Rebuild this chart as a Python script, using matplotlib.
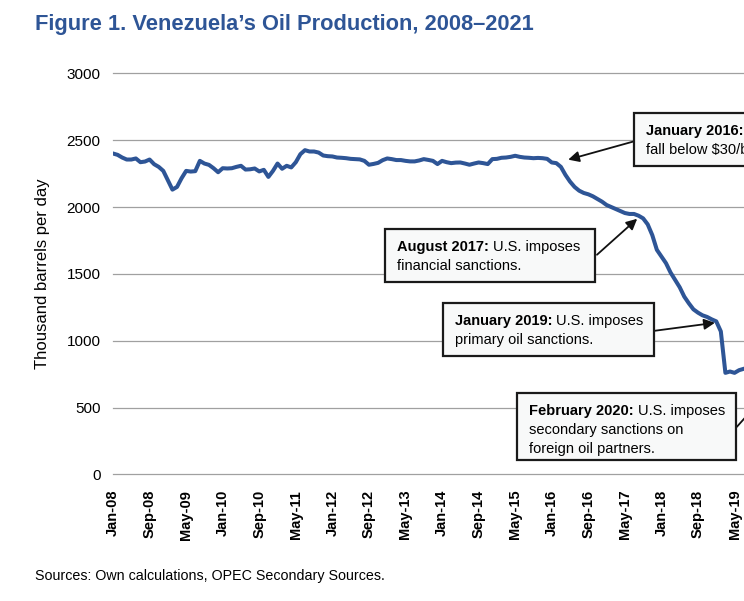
import matplotlib
matplotlib.use('Agg')
import matplotlib.pyplot as plt
from matplotlib.patches import Rectangle
from matplotlib.transforms import offset_copy

# monthly production, thousand barrels per day, from Jan-08
production = [
    2400, 2390, 2370, 2355, 2355, 2363, 2335, 2340, 2355, 2320, 2300, 2270,
    2200, 2130, 2150, 2215, 2270, 2265, 2268, 2345, 2325, 2315, 2290, 2260,
    2290, 2288, 2290, 2300, 2308, 2280, 2282, 2288, 2266, 2278, 2225, 2270,
    2325, 2286, 2308, 2296, 2335, 2395, 2425, 2415, 2415, 2407, 2385, 2380,
    2378, 2370, 2368, 2365, 2360, 2358, 2356, 2345, 2316, 2322, 2330, 2350,
    2363, 2358, 2351, 2351, 2345, 2341, 2341, 2348, 2358, 2352, 2345, 2321,
    2345, 2335, 2328, 2332, 2333, 2325, 2316, 2325, 2333, 2328, 2321, 2358,
    2360, 2368, 2370, 2375, 2383, 2375, 2370, 2368, 2365, 2367, 2365, 2360,
    2333, 2328, 2300, 2240, 2190, 2150, 2122, 2105, 2095, 2080, 2060, 2040,
    2015, 2000, 1985, 1970, 1955, 1948, 1948, 1935, 1915, 1870, 1790, 1680,
    1630, 1580, 1510, 1455, 1400, 1330, 1280, 1235, 1210, 1190, 1178, 1160,
    1145, 1070, 760, 770, 760, 780, 790, 800,
]
tick_labels = ['Jan-08', 'Sep-08', 'May-09', 'Jan-10', 'Sep-10', 'May-11',
               'Jan-12', 'Sep-12', 'May-13', 'Jan-14', 'Sep-14', 'May-15',
               'Jan-16', 'Sep-16', 'May-17', 'Jan-18', 'Sep-18', 'May-19']
y_ticks = [0, 500, 1000, 1500, 2000, 2500, 3000]

# (box left, box top, box right, box bottom) in (month, value), bold part, text lines, arrow start, arrow end
notes = [
    ((114.0, 2706, 175, 2309), 'January 2016:', ['Oil prices', 'fall below $30/barrel.'],
     (113.8, 2489), (99.6, 2354)),
    ((59.5, 1838, 105.5, 1441), 'August 2017:', ['U.S. imposes', 'financial sanctions.'],
     (105.9, 1643), (114.7, 1912)),
    ((72.2, 1284, 118.4, 887), 'January 2019:', ['U.S. imposes', 'primary oil sanctions.'],
     (118.4, 1074), (131.7, 1134)),
    ((88.4, 610, 136.3, 109), 'February 2020:', ['U.S. imposes', 'secondary sanctions on',
                                                 'foreign oil partners.'],
     (136.5, 356), (146, 720)),
]

BLUE = '#2e5596'
SANS = ['Liberation Sans', 'DejaVu Sans']

fig = plt.figure(figsize=(7.44, 6.01), dpi=100)
ax = fig.add_axes([0.1519, 0.2105, 0.9828, 0.6676])

ax.plot(range(len(production)), production, color=BLUE, lw=2.9,
        solid_joinstyle='round', zorder=3)
ax.set_xlim(0, 160)
ax.set_ylim(0, 3000)

ax.set_yticks(y_ticks)
ax.set_yticklabels([str(v) for v in y_ticks], family=SANS, fontsize=11)
ax.set_xticks(range(0, 8 * len(tick_labels), 8))
ax.set_xticklabels(tick_labels, rotation=90, family=SANS, fontsize=10.5,
                   weight='bold')
ax.tick_params(length=0, axis='y', pad=9)
ax.tick_params(length=0, axis='x', pad=11)
ax.grid(axis='y', color='#a0a0a0', lw=0.9)
for gl in ax.get_ygridlines():
    gl.set_clip_on(False)
ax.set_axisbelow(True)
for s in ax.spines.values():
    s.set_visible(False)

ax.set_ylabel('Thousand barrels per day', family=SANS, fontsize=12)
ax.yaxis.set_label_coords(-0.086, 0.5)

fig.text(0.047, 0.960, 'Figure 1. Venezuela\u2019s Oil Production, 2008\u20132021',
         family=SANS, weight='bold', fontsize=15.75, color=BLUE, va='center')
fig.text(0.047, 0.042, 'Sources: Own calculations, OPEC Secondary Sources.',
         family=SANS, fontsize=10.3, va='center')

renderer = fig.canvas.get_renderer()
for (x0, y0, x1, y1), bold, lines, a_from, a_to in notes:
    ax.annotate('', xy=a_to, xytext=a_from, annotation_clip=False,
                arrowprops=dict(arrowstyle='-|>', color='#111111', lw=1.3,
                                mutation_scale=16, shrinkA=0, shrinkB=0),
                zorder=5)
    ax.add_patch(Rectangle((x0, y1), x1 - x0, y0 - y1, fc='#f8f9f9', ec='#1a1a1a',
                           lw=1.6, zorder=6, clip_on=False))
    tr = offset_copy(ax.transData, fig=fig, x=12, y=-17, units='dots')
    t = ax.text(x0, y0, bold, transform=tr, family=SANS, weight='bold',
                fontsize=10.5, va='center_baseline', zorder=7)
    w = t.get_window_extent(renderer).width
    tr = offset_copy(ax.transData, fig=fig, x=12 + w + 4, y=-17, units='dots')
    ax.text(x0, y0, lines[0], transform=tr, family=SANS, fontsize=10.5,
            va='center_baseline', zorder=7)
    for i, line in enumerate(lines[1:]):
        tr = offset_copy(ax.transData, fig=fig, x=12, y=-17 - 19 * (i + 1), units='dots')
        ax.text(x0, y0, line, transform=tr, family=SANS, fontsize=10.5,
                va='center_baseline', zorder=7)

fig.savefig('out.png', dpi=100)
